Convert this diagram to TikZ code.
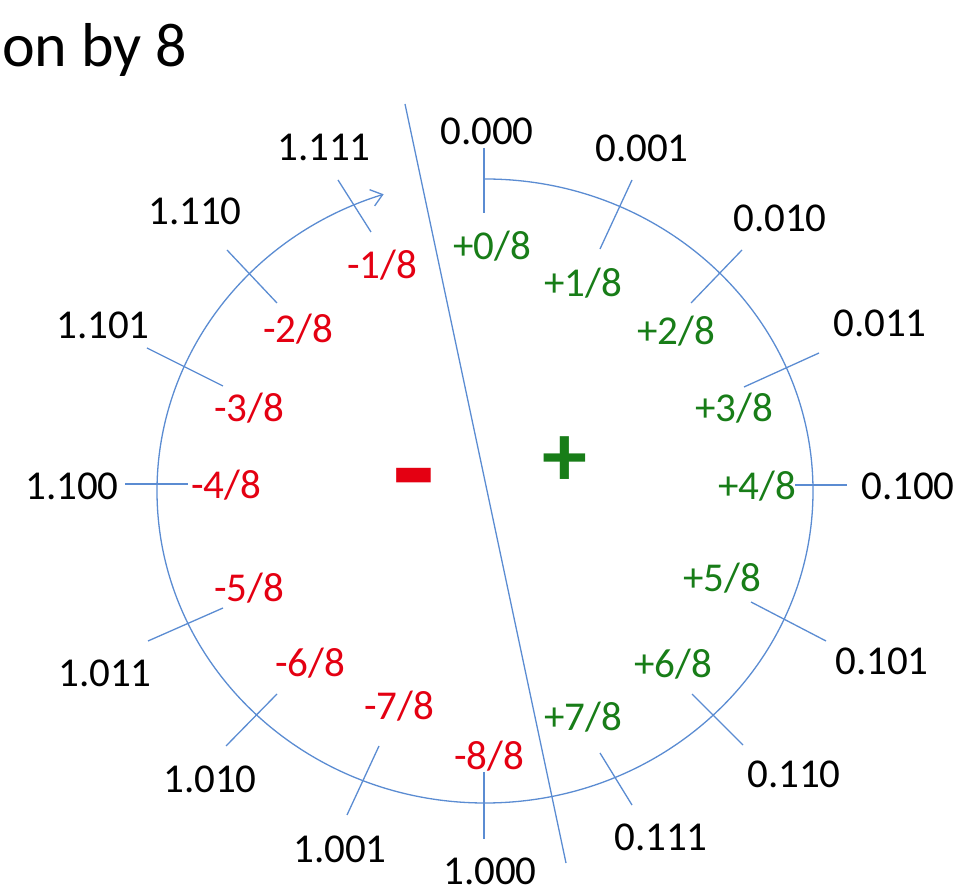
\documentclass[tikz,border=0pt]{standalone}
\usepackage{fontspec}
\setmainfont{Carlito}
\usetikzlibrary{arrows.meta}
\definecolor{lineblue}{RGB}{91,140,210}
\definecolor{negred}{RGB}{228,0,18}
\definecolor{posgreen}{RGB}{24,125,24}
\tikzset{
  binlabel/.style={inner sep=0pt, text height=26bp, text depth=0pt, font=\fontsize{41bp}{48bp}\selectfont, text=black},
  neglabel/.style={binlabel, text=negred},
  poslabel/.style={binlabel, text=posgreen},
  tickline/.style={draw=lineblue, line width=1.3bp},
  wheelline/.style={draw=lineblue, line width=1.3bp},
}
\begin{document}
\begin{tikzpicture}[x=1bp,y=1bp]
\useasboundingbox (0,0) rectangle (971,893);
% title
\node[anchor=base west, inner sep=0pt, font=\fontsize{62bp}{70bp}\selectfont] (title) at (2,826) {on by 8};
% wheel with arrow
\draw[wheelline, -{Straight Barb[length=11bp,width=17bp]}] (485,714) arc[start angle=90, end angle=-252, x radius=328, y radius=312];
% divider
\draw[wheelline] (405,789) -- (566,30);
% ticks (image coordinates converted: Y = 893 - y)
\draw[tickline] (484,745) -- (484,680);
\draw[tickline] (632,713) -- (600,644);
\draw[tickline] (742,643) -- (691,590);
\draw[tickline] (819,540) -- (744,506);
\draw[tickline] (795,408) -- (847,408);
\draw[tickline] (751,291) -- (826,252);
\draw[tickline] (692,199) -- (743,148);
\draw[tickline] (600,140) -- (632,88);
\draw[tickline] (484,121) -- (484,54);
\draw[tickline] (379,147) -- (347,78);
\draw[tickline] (277,199) -- (226,147);
\draw[tickline] (223,285) -- (148,252);
\draw[tickline] (125,409) -- (188,409);
\draw[tickline] (147,545) -- (223,507);
\draw[tickline] (227,643) -- (277,590);
\draw[tickline] (338,713) -- (371,661);
% outer binary labels
\node[binlabel] (b0) at (487,761) {0.000};
\node[binlabel] (b1) at (642,744) {0.001};
\node[binlabel] (b2) at (780,674) {0.010};
\node[binlabel] (b3) at (880,569) {0.011};
\node[binlabel] (b4) at (908,406) {0.100};
\node[binlabel] (b5) at (882,231) {0.101};
\node[binlabel] (b6) at (794,118) {0.110};
\node[binlabel] (b7) at (661,55) {0.111};
\node[binlabel] (b8) at (490,21) {1.000};
\node[binlabel] (b9) at (340,43) {1.001};
\node[binlabel] (b10) at (210,113) {1.010};
\node[binlabel] (b11) at (105,219) {1.011};
\node[binlabel] (b12) at (72,406) {1.100};
\node[binlabel] (b13) at (103,567) {1.101};
\node[binlabel] (b14) at (195,681) {1.110};
\node[binlabel] (b15) at (324,745) {1.111};
% inner value labels
\node[poslabel] (v0) at (492,646) {+0/8};
\node[poslabel] (v1) at (583,609) {+1/8};
\node[poslabel] (v2) at (676,561) {+2/8};
\node[poslabel] (v3) at (734,484) {+3/8};
\node[poslabel] (v4) at (757,406) {+4/8};
\node[poslabel] (v5) at (722,314) {+5/8};
\node[poslabel] (v6) at (673,228) {+6/8};
\node[poslabel] (v7) at (583,175) {+7/8};
\node[neglabel] (v8) at (489,136) {-8/8};
\node[neglabel] (v9) at (399,186) {-7/8};
\node[neglabel] (v10) at (310,229) {-6/8};
\node[neglabel] (v11) at (249,304) {-5/8};
\node[neglabel] (v12) at (226,407) {-4/8};
\node[neglabel] (v13) at (249,484) {-3/8};
\node[neglabel] (v14) at (298,563) {-2/8};
\node[neglabel] (v15) at (382,627) {-1/8};
% sign markers
\node[inner sep=0pt, text=posgreen, font=\bfseries\fontsize{90bp}{90bp}\selectfont] (plus) at (565,431) {+};
\node[inner sep=0pt, text=negred, font=\bfseries\fontsize{140bp}{140bp}\selectfont] (minus) at (414,401) {-};
\end{tikzpicture}
\end{document}
